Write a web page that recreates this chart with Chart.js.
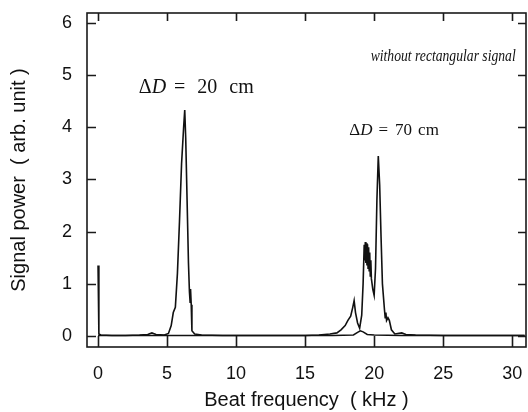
<!DOCTYPE html>
<html>
<head>
<meta charset="utf-8">
<script src="https://cdn.jsdelivr.net/npm/chart.js@4/dist/chart.umd.min.js"></script>
<style>
  html, body { margin: 0; padding: 0; background: #fff; }
  #wrap { width: 528px; height: 412px; }
</style>
</head>
<body>
<div id="wrap"><canvas id="spectrum" width="528" height="412"></canvas></div>
<script>
// tick labels
const xTicks = [0, 5, 10, 15, 20, 25, 30];
const yTicks = [0, 1, 2, 3, 4, 5, 6];

// Delta D = 20 cm spectrum (kHz, arb. unit)
const freq20 = [0, 0.06, 0.2, 1, 2, 3, 3.6, 3.9, 4.2, 4.8, 5.1, 5.3, 5.45, 5.6, 5.75, 5.9, 6.05, 6.2, 6.28, 6.35, 6.45, 6.55, 6.62, 6.67, 6.7, 6.75, 6.8, 7.0, 7.5, 9, 12, 15, 17, 18.5, 18.8, 19.0, 19.2, 19.5, 20, 22, 26, 30.9];
const power20 = [1.35, 0.04, 0.02, 0.01, 0.01, 0.02, 0.03, 0.06, 0.03, 0.02, 0.05, 0.2, 0.45, 0.55, 1.2, 2.2, 3.3, 4.0, 4.33, 3.8, 2.6, 1.4, 0.85, 0.65, 0.9, 0.6, 0.1, 0.04, 0.02, 0.01, 0.01, 0.01, 0.01, 0.02, 0.07, 0.1, 0.08, 0.03, 0.02, 0.01, 0.01, 0.01];

// Delta D = 70 cm spectrum
const freq70 = [0, 10, 15, 16, 16.8, 17.3, 17.6, 17.9, 18.1, 18.3, 18.45, 18.55, 18.65, 18.8, 18.95, 19.1, 19.2, 19.28, 19.32, 19.36, 19.4, 19.44, 19.48, 19.52, 19.56, 19.6, 19.64, 19.68, 19.72, 19.76, 19.8, 19.9, 20.0, 20.1, 20.2, 20.3, 20.4, 20.5, 20.6, 20.75, 20.8, 20.85, 20.9, 21.0, 21.1, 21.25, 21.5, 22, 22.3, 23, 25, 30.9];
const power70 = [0.01, 0.01, 0.01, 0.02, 0.04, 0.06, 0.12, 0.2, 0.3, 0.38, 0.55, 0.68, 0.45, 0.25, 0.15, 0.4, 1.0, 1.75, 1.45, 1.8, 1.4, 1.78, 1.35, 1.76, 1.3, 1.7, 1.25, 1.6, 1.15, 1.45, 1.1, 0.9, 0.78, 1.3, 2.6, 3.45, 2.9, 1.9, 1.0, 0.5, 0.35, 0.45, 0.3, 0.35, 0.3, 0.12, 0.04, 0.06, 0.03, 0.02, 0.01, 0.01];

// text notes in data coordinates; each part: [text, style, gap after]
const notes = [
  { x: 2.95, y: 4.75, size: 20, parts: [['Δ', '', 0], ['D', 'italic ', 8], ['=', '', 12], ['20', '', 12], ['cm', '', 0]] },
  { x: 18.2, y: 3.93, size: 17, parts: [['Δ', '', 0], ['D', 'italic ', 6], ['=', '', 7], ['70', '', 6], ['cm', '', 0]] },
  { x: 19.75, y: 5.36, size: 17, fit: 145, parts: [['without rectangular signal', 'italic ', 0]] }
];

function pts(xs, ys) {
  return xs.map((x, i) => ({ x: x, y: ys[i] }));
}

// frame with inward ticks on all four sides, plus the text notes
const framePlugin = {
  id: 'frame',
  afterDraw(chart) {
    const ctx = chart.ctx;
    const a = chart.chartArea;
    const xs = chart.scales.x, ys = chart.scales.y;
    ctx.save();
    ctx.strokeStyle = '#1a1a1a';
    ctx.lineWidth = 1.6;
    ctx.strokeRect(a.left, a.top, a.right - a.left, a.bottom - a.top);
    ctx.beginPath();
    xTicks.forEach(v => {
      const px = Math.round(xs.getPixelForValue(v)) + 0.5;
      ctx.moveTo(px, a.bottom); ctx.lineTo(px, a.bottom - 11);
      ctx.moveTo(px, a.top); ctx.lineTo(px, a.top + 8);
    });
    yTicks.forEach(v => {
      const py = Math.round(ys.getPixelForValue(v)) + 0.5;
      ctx.moveTo(a.left, py); ctx.lineTo(a.left + 9, py);
      ctx.moveTo(a.right, py); ctx.lineTo(a.right - 8, py);
    });
    ctx.stroke();

    ctx.fillStyle = '#111';
    ctx.textBaseline = 'middle';
    notes.forEach(n => {
      let px = xs.getPixelForValue(n.x);
      const py = ys.getPixelForValue(n.y);
      n.parts.forEach(p => {
        ctx.font = p[1] + n.size + 'px "Liberation Serif", "DejaVu Serif", serif';
        const w = n.fit ? Math.min(n.fit, ctx.measureText(p[0]).width) : ctx.measureText(p[0]).width;
        if (n.fit) ctx.fillText(p[0], px, py, n.fit); else ctx.fillText(p[0], px, py);
        px += w + p[2];
      });
    });
    ctx.restore();
  }
};

const tickFont = { family: '"Liberation Sans", Arial, sans-serif', size: 18 };
const titleFont = { family: '"Liberation Sans", Arial, sans-serif', size: 20 };

function noPad(s) {
  s.paddingLeft = 0; s.paddingRight = 0; s.paddingTop = 0; s.paddingBottom = 0;
}

const ctx = document.getElementById('spectrum').getContext('2d');
new Chart(ctx, {
  type: 'line',
  data: {
    datasets: [
      { label: 'ΔD = 20 cm', data: pts(freq20, power20) },
      { label: 'ΔD = 70 cm', data: pts(freq70, power70) }
    ]
  },
  options: {
    responsive: false,
    animation: false,
    layout: { padding: { top: 13, right: 2, left: 0, bottom: 0 } },
    elements: {
      line: { borderColor: '#111', borderWidth: 1.6, tension: 0 },
      point: { radius: 0 }
    },
    plugins: { legend: { display: false }, tooltip: { enabled: false } },
    scales: {
      x: {
        type: 'linear',
        min: -0.8,
        max: 31,
        afterBuildTicks: s => { s.ticks = xTicks.map(v => ({ value: v })); },
        afterFit: s => { s.height = 65; noPad(s); },
        grid: { display: false, drawTicks: false },
        border: { display: false },
        ticks: { font: tickFont, color: '#111', padding: 16, maxRotation: 0 },
        title: { display: true, text: 'Beat frequency  ( kHz )', font: titleFont, color: '#111', padding: { top: 0, bottom: 0 } }
      },
      y: {
        type: 'linear',
        min: -0.21,
        max: 6.19,
        afterBuildTicks: s => { s.ticks = yTicks.map(v => ({ value: v })); },
        afterFit: s => { s.width = 87; noPad(s); },
        grid: { display: false, drawTicks: false },
        border: { display: false },
        ticks: { font: tickFont, color: '#111', padding: 15 },
        title: { display: true, text: 'Signal power  ( arb. unit )', font: titleFont, color: '#111', padding: { top: 7, bottom: 0 } }
      }
    }
  },
  plugins: [framePlugin]
});
</script>
</body>
</html>
